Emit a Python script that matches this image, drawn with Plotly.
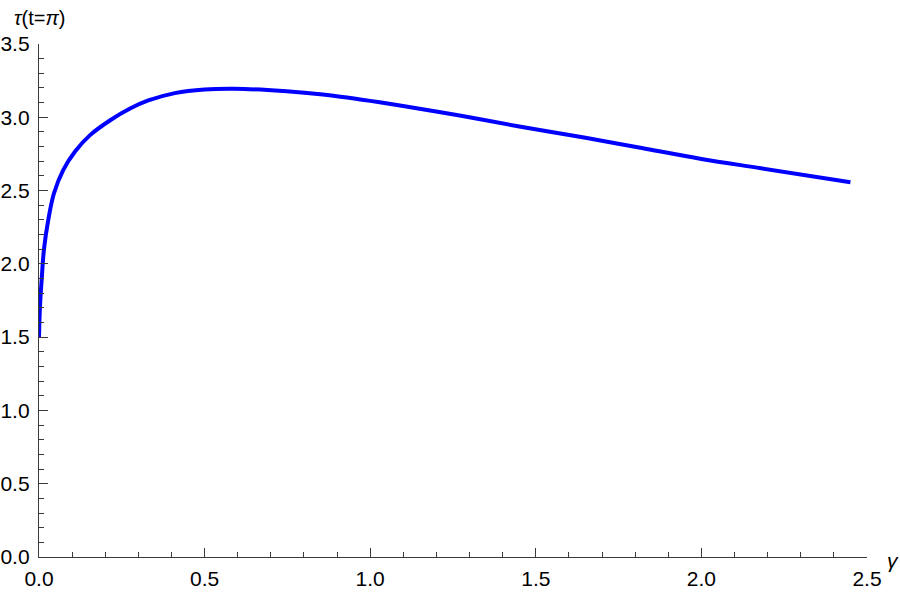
import plotly.graph_objects as go

# valores
gamma = [0.0, 0.003, 0.008, 0.015, 0.028, 0.045, 0.073, 0.11, 0.155, 0.215,
         0.275, 0.33, 0.41, 0.5, 0.59, 0.69, 0.81, 0.91, 1.0, 1.09,
         1.27, 1.45, 1.65, 1.82, 2.0, 2.18, 2.45]
tau = [1.5, 1.71, 1.89, 2.10, 2.30, 2.48, 2.64, 2.77, 2.88, 2.98,
       3.06, 3.115, 3.165, 3.19, 3.195, 3.186, 3.165, 3.14, 3.112, 3.08,
       3.012, 2.937, 2.86, 2.79, 2.716, 2.652, 2.557]

x_ticks = [0.0, 0.5, 1.0, 1.5, 2.0, 2.5]
y_ticks = [0.0, 0.5, 1.0, 1.5, 2.0, 2.5, 3.0, 3.5]

axis_col = '#3a3a3a'
fnt = dict(family='Liberation Sans, Arial, sans-serif', size=21, color='black')

fig = go.Figure()
fig.add_trace(go.Scatter(x=gamma, y=tau, mode='lines',
                         line=dict(color='#0000ff', width=4, shape='spline', smoothing=1.0),
                         showlegend=False, hoverinfo='x+y'))

common = dict(showgrid=False, zeroline=False, showline=True, linecolor=axis_col, linewidth=1.3,
              ticks='inside', ticklen=9, tickwidth=1.3, tickcolor=axis_col, tickfont=fnt,
              automargin=False,
              minor=dict(ticks='inside', ticklen=5, tickwidth=1.3, tickcolor=axis_col, dtick=0.1))

fig.update_xaxes(range=[0, 2.5], tickvals=x_ticks, ticktext=[f'{v:.1f}' for v in x_ticks],
                 ticklabelstandoff=3, **common)
fig.update_yaxes(range=[0, 3.5], tickvals=y_ticks, ticktext=[f'{v:.1f}' for v in y_ticks],
                 ticklabelstandoff=4, **common)

fig.add_annotation(text='<i>τ</i>(t=<i>π</i>)', xref='x', x=0, yref='paper', y=1,
                   xanchor='center', yanchor='bottom', yshift=13, showarrow=False,
                   font=dict(family=fnt['family'], size=20, color='black'))
fig.add_annotation(text='<i>γ</i>', xref='paper', x=1, yref='paper', y=0,
                   xanchor='center', yanchor='middle', xshift=26, yshift=-3, showarrow=False,
                   font=dict(family=fnt['family'], size=21, color='black'))

fig.update_layout(width=900, height=595, plot_bgcolor='white', paper_bgcolor='white',
                  margin=dict(l=39, r=33, t=44, b=38), font=fnt)

# tira a margem de 8px do body e a barra de ferramentas
fig.write_html('out.html', config={'displayModeBar': False},
               post_script="document.body.style.margin='0';")
